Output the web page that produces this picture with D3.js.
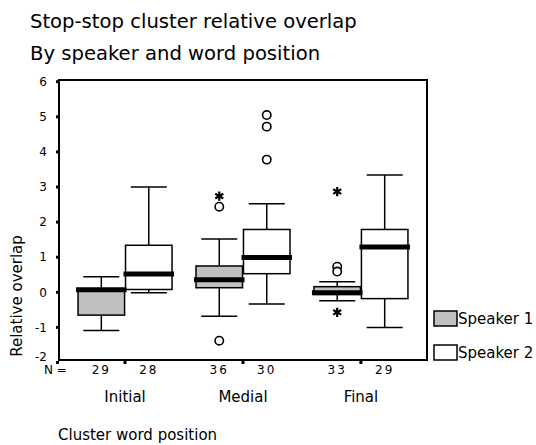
<!DOCTYPE html>
<meta charset="utf-8">
<style>
body { margin: 0; background: #fff; }
text { font-family: "DejaVu Sans", sans-serif; fill: #000; }
.frame { fill: none; stroke: #000; stroke-width: 2px; }
.box { stroke: #000; stroke-width: 1.5px; }
.whisker { stroke: #000; stroke-width: 1.5px; }
.median { stroke: #000; stroke-width: 5px; }
</style>
<svg width="536" height="445"></svg>
<script src="https://d3js.org/d3.v7.min.js"></script>
<script>

var categories = ["Initial", "Medial", "Final"];
var speakers = ["Speaker 1", "Speaker 2"];
var fills = ["#c0c0c0", "#ffffff"];
var yTicks = [-2, -1, 0, 1, 2, 3, 4, 5, 6];

// counts per category, speaker 1 then speaker 2
var counts1 = [29, 36, 33];
var counts2 = [28, 30, 29];

// box statistics
var s1Low    = [-1.09, -0.68, -0.24];
var s1Q1     = [-0.65,  0.13, -0.06];
var s1Median = [ 0.07,  0.36, -0.01];
var s1Q3     = [ 0.10,  0.75,  0.16];
var s1High   = [ 0.44,  1.52,  0.30];

var s2Low    = [-0.01, -0.33, -1.00];
var s2Q1     = [ 0.08,  0.53, -0.18];
var s2Median = [ 0.52,  0.99,  1.29];
var s2Q3     = [ 1.34,  1.79,  1.79];
var s2High   = [ 3.00,  2.52,  3.34];

// outliers: category, speaker index, value, kind
var outCategory = ["Medial", "Medial", "Medial", "Medial", "Medial", "Medial", "Final", "Final", "Final", "Final"];
var outSpeaker  = [0, 0, 0, 1, 1, 1, 0, 0, 0, 0];
var outValue    = [2.74, 2.44, -1.38, 5.05, 4.72, 3.78, 2.87, 0.73, 0.59, -0.57];
var outKind     = ["star", "circle", "circle", "circle", "circle", "circle", "star", "circle", "circle", "star"];

var svg = d3.select("svg");

var plotLeft = 59, plotRight = 427, plotTop = 80, plotBottom = 360;

var x = d3.scalePoint()
    .domain(categories)
    .range([plotLeft, plotRight])
    .padding(0.56);

var sub = d3.scaleBand()
    .domain(speakers)
    .range([-47, 47])
    .paddingInner(0.02);

var y = d3.scaleLinear()
    .domain([-2, 6])
    .range([362.5, 81.7]);

// build box table
var boxes = [];
categories.forEach(function(c, i) {
  boxes.push({cat: c, sp: 0, low: s1Low[i], q1: s1Q1[i], med: s1Median[i], q3: s1Q3[i], high: s1High[i], n: counts1[i]});
  boxes.push({cat: c, sp: 1, low: s2Low[i], q1: s2Q1[i], med: s2Median[i], q3: s2Q3[i], high: s2High[i], n: counts2[i]});
});

function boxX(d) { return x(d.cat) + sub(speakers[d.sp]); }
function boxC(d) { return boxX(d) + sub.bandwidth() / 2; }

// titles
svg.append("text").attr("x", 30).attr("y", 28).style("font-size", "19.6px")
    .text("Stop-stop cluster relative overlap");
svg.append("text").attr("x", 30).attr("y", 60).style("font-size", "19.6px")
    .text("By speaker and word position");

// y axis ticks (small squares) and labels
var yt = svg.append("g");
yt.selectAll("rect").data(yTicks).enter().append("rect")
    .attr("x", plotLeft - 3).attr("y", function(d) { return y(d) - 1.5; })
    .attr("width", 3).attr("height", 3).attr("fill", "#000");
yt.selectAll("text").data(yTicks).enter().append("text")
    .attr("x", 47).attr("y", function(d) { return Math.min(y(d), 357); })
    .attr("dy", "0.35em").attr("text-anchor", "end")
    .style("font-size", "12px")
    .text(function(d) { return d; });

svg.append("text")
    .attr("transform", "translate(22," + 296 + ") rotate(-90)")
    .attr("text-anchor", "middle")
    .style("font-size", "15px")
    .text("Relative overlap");

// whiskers
var g = svg.append("g");
var wh = g.selectAll(".wh").data(boxes).enter().append("g");
wh.append("line").attr("class", "whisker")
    .attr("x1", boxC).attr("x2", boxC)
    .attr("y1", function(d) { return y(d.high); })
    .attr("y2", function(d) { return y(d.low); });
wh.append("line").attr("class", "whisker")
    .attr("x1", function(d) { return boxC(d) - 18; })
    .attr("x2", function(d) { return boxC(d) + 18; })
    .attr("y1", function(d) { return y(d.high); })
    .attr("y2", function(d) { return y(d.high); });
wh.append("line").attr("class", "whisker")
    .attr("x1", function(d) { return boxC(d) - 18; })
    .attr("x2", function(d) { return boxC(d) + 18; })
    .attr("y1", function(d) { return y(d.low); })
    .attr("y2", function(d) { return y(d.low); });

// boxes
g.selectAll(".box").data(boxes).enter().append("rect")
    .attr("class", "box")
    .attr("x", boxX)
    .attr("width", sub.bandwidth())
    .attr("y", function(d) { return y(d.q3); })
    .attr("height", function(d) { return y(d.q1) - y(d.q3); })
    .attr("fill", function(d) { return fills[d.sp]; });

// medians
g.selectAll(".median").data(boxes).enter().append("line")
    .attr("class", "median")
    .attr("x1", function(d) { return boxX(d) - 2; })
    .attr("x2", function(d) { return boxX(d) + sub.bandwidth() + 2; })
    .attr("y1", function(d) { return y(d.med); })
    .attr("y2", function(d) { return y(d.med); });

// outliers
var outliers = outValue.map(function(v, i) {
  return {cat: outCategory[i], sp: outSpeaker[i], value: v, kind: outKind[i]};
});
g.selectAll(".out").data(outliers).enter().append("path")
    .attr("transform", function(d) { return "translate(" + boxC(d) + "," + y(d.value) + ")"; })
    .attr("d", function(d) {
      return d.kind == "star"
        ? d3.symbol(d3.symbolAsterisk, 60)()
        : d3.symbol(d3.symbolCircle, 55)();
    })
    .attr("fill", function(d) { return d.kind == "star" ? "none" : "#fff"; })
    .attr("stroke", "#000")
    .attr("stroke-width", function(d) { return d.kind == "star" ? 2.2 : 1.6; });

// frame
svg.append("rect").attr("class", "frame")
    .attr("x", plotLeft).attr("y", plotTop)
    .attr("width", plotRight - plotLeft).attr("height", plotBottom - plotTop);

// x ticks (squares under the frame)
svg.append("g").selectAll("rect").data(categories).enter().append("rect")
    .attr("x", function(d) { return x(d) - 1.5; }).attr("y", plotBottom + 1)
    .attr("width", 3).attr("height", 3).attr("fill", "#000");

// N row
svg.append("text").attr("x", 44).attr("y", 374).style("font-size", "12px").text("N =");
svg.append("g").selectAll("text").data(boxes).enter().append("text")
    .attr("x", boxC).attr("y", 374)
    .attr("text-anchor", "middle")
    .style("font-size", "12px").style("letter-spacing", "2px")
    .text(function(d) { return d.n; });

// category labels
svg.append("g").selectAll("text").data(categories).enter().append("text")
    .attr("x", function(d) { return x(d); }).attr("y", 402)
    .attr("text-anchor", "middle")
    .style("font-size", "15px")
    .text(function(d) { return d; });

svg.append("text").attr("x", 58).attr("y", 440).style("font-size", "15px")
    .text("Cluster word position");

// legend
var leg = svg.append("g").selectAll("g").data(speakers).enter().append("g")
    .attr("transform", function(d, i) { return "translate(434," + (311 + i * 34) + ")"; });
leg.append("rect").attr("width", 23).attr("height", 15)
    .attr("fill", function(d, i) { return fills[i]; })
    .attr("stroke", "#000").attr("stroke-width", 1.5);
leg.append("text").attr("x", 24).attr("y", 13).style("font-size", "15px")
    .text(function(d) { return d; });

</script>
